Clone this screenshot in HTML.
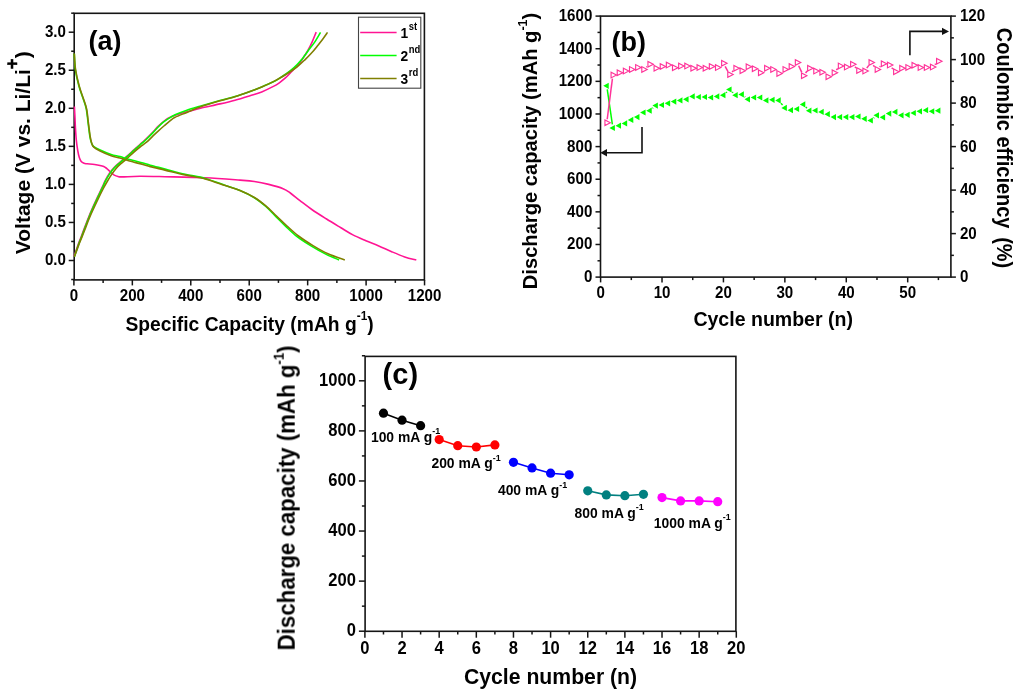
<!DOCTYPE html>
<html><head><meta charset="utf-8"><title>figure</title>
<style>
html,body{margin:0;padding:0;background:#fff;width:1024px;height:696px;overflow:hidden;}
svg{display:block;}
text{font-family:"Liberation Sans",sans-serif;fill:#000;font-weight:bold;}
</style></head><body>
<svg width="1024" height="696" viewBox="0 0 1024 696">
<rect width="1024" height="696" fill="#fff"/>
<g opacity="0.999">
<rect x="74.2" y="13.3" width="350.2" height="266.6" fill="none" stroke="#151515" stroke-width="1.6"/>
<line x1="71.2" y1="279.52" x2="74.2" y2="279.52" stroke="#151515" stroke-width="1.5" stroke-linecap="butt"/>
<line x1="68.7" y1="260.5" x2="74.2" y2="260.5" stroke="#151515" stroke-width="1.5" stroke-linecap="butt"/>
<text id="ta_l0" transform="translate(65.9,265.44) scale(0.91,1)" font-size="16.6" text-anchor="end">0.0</text>
<line x1="71.2" y1="241.47" x2="74.2" y2="241.47" stroke="#151515" stroke-width="1.5" stroke-linecap="butt"/>
<line x1="68.7" y1="222.45" x2="74.2" y2="222.45" stroke="#151515" stroke-width="1.5" stroke-linecap="butt"/>
<text id="ta_l2" transform="translate(65.9,227.39) scale(0.91,1)" font-size="16.6" text-anchor="end">0.5</text>
<line x1="71.2" y1="203.43" x2="74.2" y2="203.43" stroke="#151515" stroke-width="1.5" stroke-linecap="butt"/>
<line x1="68.7" y1="184.4" x2="74.2" y2="184.4" stroke="#151515" stroke-width="1.5" stroke-linecap="butt"/>
<text id="ta_l4" transform="translate(65.9,189.34) scale(0.91,1)" font-size="16.6" text-anchor="end">1.0</text>
<line x1="71.2" y1="165.38" x2="74.2" y2="165.38" stroke="#151515" stroke-width="1.5" stroke-linecap="butt"/>
<line x1="68.7" y1="146.35" x2="74.2" y2="146.35" stroke="#151515" stroke-width="1.5" stroke-linecap="butt"/>
<text id="ta_l6" transform="translate(65.9,151.29) scale(0.91,1)" font-size="16.6" text-anchor="end">1.5</text>
<line x1="71.2" y1="127.33" x2="74.2" y2="127.33" stroke="#151515" stroke-width="1.5" stroke-linecap="butt"/>
<line x1="68.7" y1="108.3" x2="74.2" y2="108.3" stroke="#151515" stroke-width="1.5" stroke-linecap="butt"/>
<text id="ta_l8" transform="translate(65.9,113.24) scale(0.91,1)" font-size="16.6" text-anchor="end">2.0</text>
<line x1="71.2" y1="89.28" x2="74.2" y2="89.28" stroke="#151515" stroke-width="1.5" stroke-linecap="butt"/>
<line x1="68.7" y1="70.25" x2="74.2" y2="70.25" stroke="#151515" stroke-width="1.5" stroke-linecap="butt"/>
<text id="ta_l10" transform="translate(65.9,75.19) scale(0.91,1)" font-size="16.6" text-anchor="end">2.5</text>
<line x1="71.2" y1="51.23" x2="74.2" y2="51.23" stroke="#151515" stroke-width="1.5" stroke-linecap="butt"/>
<line x1="68.7" y1="32.2" x2="74.2" y2="32.2" stroke="#151515" stroke-width="1.5" stroke-linecap="butt"/>
<text id="ta_l12" transform="translate(65.9,37.14) scale(0.91,1)" font-size="16.6" text-anchor="end">3.0</text>
<line x1="71.2" y1="13.18" x2="74.2" y2="13.18" stroke="#151515" stroke-width="1.5" stroke-linecap="butt"/>
<line x1="73.9" y1="279.9" x2="73.9" y2="285.4" stroke="#151515" stroke-width="1.5" stroke-linecap="butt"/>
<text id="ta_b0" transform="translate(73.9,300.69) scale(0.91,1)" font-size="16.6" text-anchor="middle">0</text>
<line x1="103.12" y1="279.9" x2="103.12" y2="282.9" stroke="#151515" stroke-width="1.5" stroke-linecap="butt"/>
<line x1="132.34" y1="279.9" x2="132.34" y2="285.4" stroke="#151515" stroke-width="1.5" stroke-linecap="butt"/>
<text id="ta_b2" transform="translate(132.34,300.69) scale(0.91,1)" font-size="16.6" text-anchor="middle">200</text>
<line x1="161.56" y1="279.9" x2="161.56" y2="282.9" stroke="#151515" stroke-width="1.5" stroke-linecap="butt"/>
<line x1="190.78" y1="279.9" x2="190.78" y2="285.4" stroke="#151515" stroke-width="1.5" stroke-linecap="butt"/>
<text id="ta_b4" transform="translate(190.78,300.69) scale(0.91,1)" font-size="16.6" text-anchor="middle">400</text>
<line x1="220" y1="279.9" x2="220" y2="282.9" stroke="#151515" stroke-width="1.5" stroke-linecap="butt"/>
<line x1="249.22" y1="279.9" x2="249.22" y2="285.4" stroke="#151515" stroke-width="1.5" stroke-linecap="butt"/>
<text id="ta_b6" transform="translate(249.22,300.69) scale(0.91,1)" font-size="16.6" text-anchor="middle">600</text>
<line x1="278.44" y1="279.9" x2="278.44" y2="282.9" stroke="#151515" stroke-width="1.5" stroke-linecap="butt"/>
<line x1="307.66" y1="279.9" x2="307.66" y2="285.4" stroke="#151515" stroke-width="1.5" stroke-linecap="butt"/>
<text id="ta_b8" transform="translate(307.66,300.69) scale(0.91,1)" font-size="16.6" text-anchor="middle">800</text>
<line x1="336.88" y1="279.9" x2="336.88" y2="282.9" stroke="#151515" stroke-width="1.5" stroke-linecap="butt"/>
<line x1="366.1" y1="279.9" x2="366.1" y2="285.4" stroke="#151515" stroke-width="1.5" stroke-linecap="butt"/>
<text id="ta_b10" transform="translate(366.1,300.69) scale(0.91,1)" font-size="16.6" text-anchor="middle">1000</text>
<line x1="395.32" y1="279.9" x2="395.32" y2="282.9" stroke="#151515" stroke-width="1.5" stroke-linecap="butt"/>
<line x1="424.54" y1="279.9" x2="424.54" y2="285.4" stroke="#151515" stroke-width="1.5" stroke-linecap="butt"/>
<text id="ta_b12" transform="translate(424.54,300.69) scale(0.91,1)" font-size="16.6" text-anchor="middle">1200</text>
<path d="M74.4,106.5 C74.5,108.42 74.83,114.52 75,118 C75.17,121.48 75.18,123.73 75.4,127.4 C75.62,131.07 75.92,136.18 76.3,140 C76.68,143.82 77.2,147.38 77.7,150.3 C78.2,153.22 78.72,155.63 79.3,157.5 C79.88,159.37 80.42,160.53 81.2,161.5 C81.98,162.47 83.02,162.92 84,163.3 C84.98,163.68 85.33,163.6 87.1,163.8 C88.87,164 92.08,164.13 94.6,164.5 C97.12,164.87 100.38,165.5 102.2,166 C104.02,166.5 104.5,166.87 105.5,167.5 C106.5,168.13 107.2,168.88 108.2,169.8 C109.2,170.72 110.5,172.12 111.5,173 C112.5,173.88 113.12,174.52 114.2,175.1 C115.28,175.68 116.73,176.2 118,176.5 C119.27,176.8 118.15,176.93 121.8,176.9 C125.45,176.87 132.7,176.33 139.9,176.3 C147.1,176.27 154.12,176.47 165,176.7 C175.88,176.93 192.7,177.13 205.2,177.7 C217.7,178.27 231.8,179.47 240,180.1 C248.2,180.73 249.62,180.78 254.4,181.5 C259.18,182.22 263.92,183.2 268.7,184.4 C273.48,185.6 279.5,187.27 283.1,188.7 C286.7,190.13 287.43,190.97 290.3,193 C293.17,195.03 296.72,198.15 300.3,200.9 C303.88,203.65 307.48,206.52 311.8,209.5 C316.12,212.48 321.42,215.8 326.2,218.8 C330.98,221.8 336.05,224.82 340.5,227.5 C344.95,230.18 348.67,232.7 352.9,234.9 C357.13,237.1 361.58,238.87 365.9,240.7 C370.22,242.53 374.5,244.07 378.8,245.9 C383.1,247.73 387.38,249.87 391.7,251.7 C396.02,253.53 400.6,255.5 404.7,256.9 C408.8,258.3 414.37,259.57 416.3,260.1" fill="none" stroke="#ff1493" stroke-width="1.6" stroke-linejoin="round" stroke-linecap="butt"/>
<path d="M74.1,256.2 C74.75,254.32 76.82,248.15 78,244.9 C79.18,241.65 80.15,239.45 81.2,236.7 C82.25,233.95 83.1,231.57 84.3,228.4 C85.5,225.23 87.15,220.83 88.4,217.7 C89.65,214.57 90.27,213.07 91.8,209.6 C93.33,206.13 95.87,200.63 97.6,196.9 C99.33,193.17 100.87,190.03 102.2,187.2 C103.53,184.37 104.38,182.22 105.6,179.9 C106.82,177.58 108.08,175.37 109.5,173.3 C110.92,171.23 112.38,169.33 114.1,167.5 C115.82,165.67 117.98,163.9 119.8,162.3 C121.62,160.7 123.08,159.57 125,157.9 C126.92,156.23 129.28,154.12 131.3,152.3 C133.32,150.48 135.37,148.57 137.1,147 C138.83,145.43 140.07,144.37 141.7,142.9 C143.33,141.43 145.07,139.97 146.9,138.2 C148.73,136.43 150.78,134.3 152.7,132.3 C154.62,130.3 156.18,128.32 158.4,126.2 C160.62,124.08 163.78,121.2 166,119.6 C168.22,118 169.78,117.45 171.7,116.6 C173.62,115.75 174.62,115.38 177.5,114.5 C180.38,113.62 185.17,112.35 189,111.3 C192.83,110.25 195.33,109.43 200.5,108.2 C205.67,106.97 214.25,105.23 220,103.9 C225.75,102.57 230,101.57 235,100.2 C240,98.83 245.55,97.08 250,95.7 C254.45,94.32 257.8,93.45 261.7,91.9 C265.6,90.35 270.47,87.92 273.4,86.4 C276.33,84.88 277.35,84.17 279.3,82.8 C281.25,81.43 283.15,79.95 285.1,78.2 C287.05,76.45 289.03,74.35 291,72.3 C292.97,70.25 295.43,67.47 296.9,65.9 C298.37,64.33 298.72,64.3 299.8,62.9 C300.88,61.5 302.1,59.48 303.4,57.5 C304.7,55.52 306.13,53.62 307.6,51 C309.07,48.38 310.77,44.95 312.2,41.8 C313.63,38.65 315.53,33.72 316.2,32.1" fill="none" stroke="#ff1493" stroke-width="1.6" stroke-linejoin="round" stroke-linecap="butt"/>
<path d="M74.3,53.8 C74.48,56.48 74.63,64.53 75.4,69.9 C76.17,75.27 77.55,81.02 78.9,86 C80.25,90.98 82.27,95.97 83.5,99.8 C84.73,103.63 85.53,105.17 86.3,109 C87.07,112.83 87.5,118.2 88.1,122.8 C88.7,127.4 89.33,133.23 89.9,136.6 C90.47,139.97 90.9,141.38 91.5,143 C92.1,144.62 92.15,145.17 93.5,146.3 C94.85,147.43 96.67,148.43 99.6,149.8 C102.53,151.17 107.7,153.37 111.1,154.5 C114.5,155.63 116.93,155.75 120,156.6 C123.07,157.45 125.67,158.53 129.5,159.6 C133.33,160.67 139.55,162.07 143,163 C146.45,163.93 146.53,164.2 150.2,165.2 C153.87,166.2 159.18,167.5 165,169 C170.82,170.5 178.4,172.63 185.1,174.2 C191.8,175.77 198.48,176.53 205.2,178.4 C211.92,180.27 219.6,183.38 225.4,185.4 C231.2,187.42 235.17,188.45 240,190.5 C244.83,192.55 250.1,195.05 254.4,197.7 C258.7,200.35 262.22,203.25 265.8,206.4 C269.38,209.55 272.53,213.22 275.9,216.6 C279.27,219.98 282.42,223.32 286,226.7 C289.58,230.08 293.1,233.62 297.4,236.9 C301.7,240.18 307,243.48 311.8,246.4 C316.6,249.32 321.65,252.15 326.2,254.4 C330.75,256.65 336.95,258.98 339.1,259.9" fill="none" stroke="#00ff00" stroke-width="1.6" stroke-linejoin="round" stroke-linecap="butt"/>
<path d="M74.4,256.5 C75.05,254.62 77.12,248.45 78.3,245.2 C79.48,241.95 80.45,239.75 81.5,237 C82.55,234.25 83.4,231.87 84.6,228.7 C85.8,225.53 87.45,221.13 88.7,218 C89.95,214.87 90.57,213.37 92.1,209.9 C93.63,206.43 96.17,200.93 97.9,197.2 C99.63,193.47 101.17,190.33 102.5,187.5 C103.83,184.67 104.68,182.52 105.9,180.2 C107.12,177.88 108.38,175.67 109.8,173.6 C111.22,171.53 112.68,169.63 114.4,167.8 C116.12,165.97 118.28,164.2 120.1,162.6 C121.92,161 123.38,159.87 125.3,158.2 C127.22,156.53 129.58,154.42 131.6,152.6 C133.62,150.78 135.67,148.87 137.4,147.3 C139.13,145.73 140.37,144.67 142,143.2 C143.63,141.73 145.37,140.27 147.2,138.5 C149.03,136.73 151.08,134.6 153,132.6 C154.92,130.6 156.98,128.23 158.7,126.5 C160.42,124.77 161.75,123.47 163.3,122.2 C164.85,120.93 166.03,120.13 168,118.9 C169.97,117.67 171.95,116.25 175.1,114.8 C178.25,113.35 182.75,111.63 186.9,110.2 C191.05,108.77 194.48,107.82 200,106.2 C205.52,104.58 214.17,102.12 220,100.5 C225.83,98.88 230,98.02 235,96.5 C240,94.98 245.55,93 250,91.4 C254.45,89.8 257.8,88.5 261.7,86.9 C265.6,85.3 270.47,83.22 273.4,81.8 C276.33,80.38 277.35,79.62 279.3,78.4 C281.25,77.18 283.15,75.87 285.1,74.5 C287.05,73.13 289.03,71.82 291,70.2 C292.97,68.58 295.23,66.45 296.9,64.8 C298.57,63.15 299.9,61.57 301,60.3 C302.1,59.03 302.22,58.93 303.5,57.2 C304.78,55.47 306.87,52.37 308.7,49.9 C310.53,47.43 312.53,45.32 314.5,42.4 C316.47,39.48 319.5,34.07 320.5,32.4" fill="none" stroke="#00ff00" stroke-width="1.6" stroke-linejoin="round" stroke-linecap="butt"/>
<path d="M74.3,53.5 C74.52,56.23 74.78,64.48 75.6,69.9 C76.42,75.32 77.83,81.02 79.2,86 C80.57,90.98 82.57,95.97 83.8,99.8 C85.03,103.63 85.83,105.17 86.6,109 C87.37,112.83 87.8,118.2 88.4,122.8 C89,127.4 89.63,133.15 90.2,136.6 C90.77,140.05 91.2,141.73 91.8,143.5 C92.4,145.27 92.5,145.98 93.8,147.2 C95.1,148.42 96.72,149.37 99.6,150.8 C102.48,152.23 107.7,154.6 111.1,155.8 C114.5,157 116.93,157.13 120,158 C123.07,158.87 125.67,159.92 129.5,161 C133.33,162.08 139.55,163.57 143,164.5 C146.45,165.43 146.53,165.67 150.2,166.6 C153.87,167.53 159.18,168.72 165,170.1 C170.82,171.48 178.4,173.43 185.1,174.9 C191.8,176.37 198.48,177.12 205.2,178.9 C211.92,180.68 219.6,183.65 225.4,185.6 C231.2,187.55 235.17,188.62 240,190.6 C244.83,192.58 250.1,194.95 254.4,197.5 C258.7,200.05 262.12,202.82 265.8,205.9 C269.48,208.98 272.97,212.65 276.5,216 C280.03,219.35 283.33,222.67 287,226 C290.67,229.33 294.17,232.73 298.5,236 C302.83,239.27 308.08,242.63 313,245.6 C317.92,248.57 322.7,251.42 328,253.8 C333.3,256.18 342,258.88 344.8,259.9" fill="none" stroke="#808000" stroke-width="1.6" stroke-linejoin="round" stroke-linecap="butt"/>
<path d="M74.4,256.8 C75.08,254.93 77.27,248.83 78.5,245.6 C79.73,242.37 80.72,240.13 81.8,237.4 C82.88,234.67 83.77,232.35 85,229.2 C86.23,226.05 87.92,221.62 89.2,218.5 C90.48,215.38 91.13,213.92 92.7,210.5 C94.27,207.08 96.83,201.67 98.6,198 C100.37,194.33 101.82,191.33 103.3,188.5 C104.78,185.67 106.13,183.32 107.5,181 C108.87,178.68 110.07,176.7 111.5,174.6 C112.93,172.5 114.52,170.23 116.1,168.4 C117.68,166.57 119.35,165.08 121,163.6 C122.65,162.12 123.75,161.5 126,159.5 C128.25,157.5 132.17,153.68 134.5,151.6 C136.83,149.52 137.88,148.67 140,147 C142.12,145.33 145.03,143.45 147.2,141.6 C149.37,139.75 151.08,137.73 153,135.9 C154.92,134.07 156.78,132.33 158.7,130.6 C160.62,128.87 162.62,127.12 164.5,125.5 C166.38,123.88 168.23,122.27 170,120.9 C171.77,119.53 172.28,118.72 175.1,117.3 C177.92,115.88 182.75,114.12 186.9,112.4 C191.05,110.68 194.48,108.93 200,107 C205.52,105.07 214.17,102.52 220,100.8 C225.83,99.08 230,98.23 235,96.7 C240,95.17 245.55,93.22 250,91.6 C254.45,89.98 257.8,88.67 261.7,87 C265.6,85.33 269.5,83.6 273.4,81.6 C277.3,79.6 281.18,77.43 285.1,75 C289.02,72.57 293.57,69.57 296.9,67 C300.23,64.43 302.55,62.07 305.1,59.6 C307.65,57.13 310.07,54.58 312.2,52.2 C314.33,49.82 316.18,47.42 317.9,45.3 C319.62,43.18 320.9,41.65 322.5,39.5 C324.1,37.35 326.67,33.58 327.5,32.4" fill="none" stroke="#808000" stroke-width="1.6" stroke-linejoin="round" stroke-linecap="butt"/>
<rect x="358.5" y="17.2" width="62.3" height="71" fill="#fff" stroke="#444" stroke-width="1.1"/>
<line x1="360.2" y1="32.5" x2="396.6" y2="32.5" stroke="#ff1493" stroke-width="1.3" stroke-linecap="butt"/>
<text transform="translate(400.4,38.1) scale(0.92,1)" font-size="15" >1<tspan dx="0.7" dy="-8.2" font-size="10.3">st</tspan></text>
<line x1="360.2" y1="55.5" x2="396.6" y2="55.5" stroke="#00ff00" stroke-width="1.3" stroke-linecap="butt"/>
<text transform="translate(400.4,61.1) scale(0.92,1)" font-size="15" >2<tspan dx="0.7" dy="-8.2" font-size="10.3">nd</tspan></text>
<line x1="360.2" y1="78.5" x2="396.6" y2="78.5" stroke="#808000" stroke-width="1.3" stroke-linecap="butt"/>
<text transform="translate(400.4,83.9) scale(0.92,1)" font-size="15" >3<tspan dx="0.7" dy="-8.2" font-size="10.3">rd</tspan></text>
<text x="88.6" y="49.6" font-size="27" text-anchor="start" font-weight="bold">(a)</text>
<text id="tVolt" transform="translate(30.3,254.2) rotate(-90) scale(1.0050,1)" font-size="20.9" letter-spacing="0.000">Voltage (V vs. Li/Li<tspan dy="-12" font-size="18.5" style="stroke:#000;stroke-width:0.5">+</tspan><tspan dy="12">)</tspan></text>
<text id="tSpec" transform="translate(125.4,331.4) scale(0.9592,1)" font-size="20.1" letter-spacing="0.000">Specific Capacity (mAh g<tspan dy="-11" font-size="12.3">-1</tspan><tspan dy="11">)</tspan></text>
<rect x="600.5" y="16.1" width="350.4" height="261" fill="none" stroke="#151515" stroke-width="1.6"/>
<line x1="595.5" y1="277.1" x2="600.5" y2="277.1" stroke="#151515" stroke-width="1.5" stroke-linecap="butt"/>
<text id="tb_l0" transform="translate(592.3,282.04) scale(0.91,1)" font-size="16.6" text-anchor="end">0</text>
<line x1="597.5" y1="260.79" x2="600.5" y2="260.79" stroke="#151515" stroke-width="1.5" stroke-linecap="butt"/>
<line x1="595.5" y1="244.48" x2="600.5" y2="244.48" stroke="#151515" stroke-width="1.5" stroke-linecap="butt"/>
<text id="tb_l2" transform="translate(592.3,249.42) scale(0.91,1)" font-size="16.6" text-anchor="end">200</text>
<line x1="597.5" y1="228.16" x2="600.5" y2="228.16" stroke="#151515" stroke-width="1.5" stroke-linecap="butt"/>
<line x1="595.5" y1="211.85" x2="600.5" y2="211.85" stroke="#151515" stroke-width="1.5" stroke-linecap="butt"/>
<text id="tb_l4" transform="translate(592.3,216.79) scale(0.91,1)" font-size="16.6" text-anchor="end">400</text>
<line x1="597.5" y1="195.54" x2="600.5" y2="195.54" stroke="#151515" stroke-width="1.5" stroke-linecap="butt"/>
<line x1="595.5" y1="179.23" x2="600.5" y2="179.23" stroke="#151515" stroke-width="1.5" stroke-linecap="butt"/>
<text id="tb_l6" transform="translate(592.3,184.17) scale(0.91,1)" font-size="16.6" text-anchor="end">600</text>
<line x1="597.5" y1="162.91" x2="600.5" y2="162.91" stroke="#151515" stroke-width="1.5" stroke-linecap="butt"/>
<line x1="595.5" y1="146.6" x2="600.5" y2="146.6" stroke="#151515" stroke-width="1.5" stroke-linecap="butt"/>
<text id="tb_l8" transform="translate(592.3,151.54) scale(0.91,1)" font-size="16.6" text-anchor="end">800</text>
<line x1="597.5" y1="130.29" x2="600.5" y2="130.29" stroke="#151515" stroke-width="1.5" stroke-linecap="butt"/>
<line x1="595.5" y1="113.98" x2="600.5" y2="113.98" stroke="#151515" stroke-width="1.5" stroke-linecap="butt"/>
<text id="tb_l10" transform="translate(592.3,118.92) scale(0.91,1)" font-size="16.6" text-anchor="end">1000</text>
<line x1="597.5" y1="97.66" x2="600.5" y2="97.66" stroke="#151515" stroke-width="1.5" stroke-linecap="butt"/>
<line x1="595.5" y1="81.35" x2="600.5" y2="81.35" stroke="#151515" stroke-width="1.5" stroke-linecap="butt"/>
<text id="tb_l12" transform="translate(592.3,86.29) scale(0.91,1)" font-size="16.6" text-anchor="end">1200</text>
<line x1="597.5" y1="65.04" x2="600.5" y2="65.04" stroke="#151515" stroke-width="1.5" stroke-linecap="butt"/>
<line x1="595.5" y1="48.73" x2="600.5" y2="48.73" stroke="#151515" stroke-width="1.5" stroke-linecap="butt"/>
<text id="tb_l14" transform="translate(592.3,53.67) scale(0.91,1)" font-size="16.6" text-anchor="end">1400</text>
<line x1="597.5" y1="32.41" x2="600.5" y2="32.41" stroke="#151515" stroke-width="1.5" stroke-linecap="butt"/>
<line x1="595.5" y1="16.1" x2="600.5" y2="16.1" stroke="#151515" stroke-width="1.5" stroke-linecap="butt"/>
<text id="tb_l16" transform="translate(592.3,21.04) scale(0.91,1)" font-size="16.6" text-anchor="end">1600</text>
<line x1="950.9" y1="277.1" x2="955.9" y2="277.1" stroke="#151515" stroke-width="1.5" stroke-linecap="butt"/>
<text id="tb_r0" transform="translate(959.9,282.04) scale(0.91,1)" font-size="16.6" text-anchor="start">0</text>
<line x1="950.9" y1="255.35" x2="953.9" y2="255.35" stroke="#151515" stroke-width="1.5" stroke-linecap="butt"/>
<line x1="950.9" y1="233.6" x2="955.9" y2="233.6" stroke="#151515" stroke-width="1.5" stroke-linecap="butt"/>
<text id="tb_r2" transform="translate(959.9,238.54) scale(0.91,1)" font-size="16.6" text-anchor="start">20</text>
<line x1="950.9" y1="211.85" x2="953.9" y2="211.85" stroke="#151515" stroke-width="1.5" stroke-linecap="butt"/>
<line x1="950.9" y1="190.1" x2="955.9" y2="190.1" stroke="#151515" stroke-width="1.5" stroke-linecap="butt"/>
<text id="tb_r4" transform="translate(959.9,195.04) scale(0.91,1)" font-size="16.6" text-anchor="start">40</text>
<line x1="950.9" y1="168.35" x2="953.9" y2="168.35" stroke="#151515" stroke-width="1.5" stroke-linecap="butt"/>
<line x1="950.9" y1="146.6" x2="955.9" y2="146.6" stroke="#151515" stroke-width="1.5" stroke-linecap="butt"/>
<text id="tb_r6" transform="translate(959.9,151.54) scale(0.91,1)" font-size="16.6" text-anchor="start">60</text>
<line x1="950.9" y1="124.85" x2="953.9" y2="124.85" stroke="#151515" stroke-width="1.5" stroke-linecap="butt"/>
<line x1="950.9" y1="103.1" x2="955.9" y2="103.1" stroke="#151515" stroke-width="1.5" stroke-linecap="butt"/>
<text id="tb_r8" transform="translate(959.9,108.04) scale(0.91,1)" font-size="16.6" text-anchor="start">80</text>
<line x1="950.9" y1="81.35" x2="953.9" y2="81.35" stroke="#151515" stroke-width="1.5" stroke-linecap="butt"/>
<line x1="950.9" y1="59.6" x2="955.9" y2="59.6" stroke="#151515" stroke-width="1.5" stroke-linecap="butt"/>
<text id="tb_r10" transform="translate(959.9,64.54) scale(0.91,1)" font-size="16.6" text-anchor="start">100</text>
<line x1="950.9" y1="37.85" x2="953.9" y2="37.85" stroke="#151515" stroke-width="1.5" stroke-linecap="butt"/>
<line x1="950.9" y1="16.1" x2="955.9" y2="16.1" stroke="#151515" stroke-width="1.5" stroke-linecap="butt"/>
<text id="tb_r12" transform="translate(959.9,21.04) scale(0.91,1)" font-size="16.6" text-anchor="start">120</text>
<line x1="600.6" y1="277.1" x2="600.6" y2="282.4" stroke="#151515" stroke-width="1.5" stroke-linecap="butt"/>
<text id="tb_b0" transform="translate(600.6,297.54) scale(0.91,1)" font-size="16.6" text-anchor="middle">0</text>
<line x1="631.31" y1="277.1" x2="631.31" y2="280.1" stroke="#151515" stroke-width="1.5" stroke-linecap="butt"/>
<line x1="662.02" y1="277.1" x2="662.02" y2="282.4" stroke="#151515" stroke-width="1.5" stroke-linecap="butt"/>
<text id="tb_b2" transform="translate(662.02,297.54) scale(0.91,1)" font-size="16.6" text-anchor="middle">10</text>
<line x1="692.73" y1="277.1" x2="692.73" y2="280.1" stroke="#151515" stroke-width="1.5" stroke-linecap="butt"/>
<line x1="723.44" y1="277.1" x2="723.44" y2="282.4" stroke="#151515" stroke-width="1.5" stroke-linecap="butt"/>
<text id="tb_b4" transform="translate(723.44,297.54) scale(0.91,1)" font-size="16.6" text-anchor="middle">20</text>
<line x1="754.15" y1="277.1" x2="754.15" y2="280.1" stroke="#151515" stroke-width="1.5" stroke-linecap="butt"/>
<line x1="784.86" y1="277.1" x2="784.86" y2="282.4" stroke="#151515" stroke-width="1.5" stroke-linecap="butt"/>
<text id="tb_b6" transform="translate(784.86,297.54) scale(0.91,1)" font-size="16.6" text-anchor="middle">30</text>
<line x1="815.57" y1="277.1" x2="815.57" y2="280.1" stroke="#151515" stroke-width="1.5" stroke-linecap="butt"/>
<line x1="846.28" y1="277.1" x2="846.28" y2="282.4" stroke="#151515" stroke-width="1.5" stroke-linecap="butt"/>
<text id="tb_b8" transform="translate(846.28,297.54) scale(0.91,1)" font-size="16.6" text-anchor="middle">40</text>
<line x1="876.99" y1="277.1" x2="876.99" y2="280.1" stroke="#151515" stroke-width="1.5" stroke-linecap="butt"/>
<line x1="907.7" y1="277.1" x2="907.7" y2="282.4" stroke="#151515" stroke-width="1.5" stroke-linecap="butt"/>
<text id="tb_b10" transform="translate(907.7,297.54) scale(0.91,1)" font-size="16.6" text-anchor="middle">50</text>
<line x1="938.41" y1="277.1" x2="938.41" y2="280.1" stroke="#151515" stroke-width="1.5" stroke-linecap="butt"/>
<line x1="607.26" y1="89.36" x2="612.37" y2="124.44" stroke="#00ff00" stroke-width="1.5" stroke-linecap="butt"/>
<line x1="652.51" y1="108.4" x2="653.11" y2="107.9" stroke="#00ff00" stroke-width="1.5" stroke-linecap="butt"/>
<line x1="726.08" y1="92.75" x2="726.94" y2="91.95" stroke="#00ff00" stroke-width="1.5" stroke-linecap="butt"/>
<line x1="732.22" y1="91.95" x2="733.09" y2="92.75" stroke="#00ff00" stroke-width="1.5" stroke-linecap="butt"/>
<line x1="744.68" y1="96.65" x2="745.19" y2="97.05" stroke="#00ff00" stroke-width="1.5" stroke-linecap="butt"/>
<line x1="781" y1="103.19" x2="782.58" y2="105.11" stroke="#00ff00" stroke-width="1.5" stroke-linecap="butt"/>
<line x1="805.8" y1="106.98" x2="806.91" y2="108.12" stroke="#00ff00" stroke-width="1.5" stroke-linecap="butt"/>
<line x1="873.6" y1="118.17" x2="874.24" y2="117.63" stroke="#00ff00" stroke-width="1.5" stroke-linecap="butt"/>
<line x1="607.2" y1="119.23" x2="612.42" y2="78.67" stroke="#ff3399" stroke-width="1.5" stroke-linecap="butt"/>
<line x1="646.34" y1="67.07" x2="646.99" y2="66.53" stroke="#ff3399" stroke-width="1.5" stroke-linecap="butt"/>
<line x1="725.17" y1="66.46" x2="727.85" y2="71.34" stroke="#ff3399" stroke-width="1.5" stroke-linecap="butt"/>
<line x1="732.1" y1="71.92" x2="733.21" y2="70.78" stroke="#ff3399" stroke-width="1.5" stroke-linecap="butt"/>
<line x1="798.66" y1="65.76" x2="801.77" y2="72.44" stroke="#ff3399" stroke-width="1.5" stroke-linecap="butt"/>
<line x1="805.57" y1="72.91" x2="807.15" y2="70.99" stroke="#ff3399" stroke-width="1.5" stroke-linecap="butt"/>
<line x1="836.39" y1="70.11" x2="837.74" y2="68.59" stroke="#ff3399" stroke-width="1.5" stroke-linecap="butt"/>
<line x1="854.94" y1="66.78" x2="856.05" y2="67.92" stroke="#ff3399" stroke-width="1.5" stroke-linecap="butt"/>
<line x1="866.8" y1="68.17" x2="868.76" y2="65.43" stroke="#ff3399" stroke-width="1.5" stroke-linecap="butt"/>
<line x1="873.24" y1="65.19" x2="874.6" y2="66.71" stroke="#ff3399" stroke-width="1.5" stroke-linecap="butt"/>
<line x1="879.65" y1="66.97" x2="880.47" y2="66.23" stroke="#ff3399" stroke-width="1.5" stroke-linecap="butt"/>
<line x1="891.73" y1="67.74" x2="892.96" y2="69.06" stroke="#ff3399" stroke-width="1.5" stroke-linecap="butt"/>
<line x1="934.89" y1="64.63" x2="935.79" y2="63.77" stroke="#ff3399" stroke-width="1.5" stroke-linecap="butt"/>
<path d="M603.24,85.8 L608.74,82.7 L608.74,88.9Z M609.38,128 L614.88,124.9 L614.88,131.1Z M615.53,125.7 L621.03,122.6 L621.03,128.8Z M621.67,123.4 L627.17,120.3 L627.17,126.5Z M627.81,119.9 L633.31,116.8 L633.31,123Z M633.95,117.1 L639.45,114 L639.45,120.2Z M640.09,112.5 L645.59,109.4 L645.59,115.6Z M646.24,110.7 L651.74,107.6 L651.74,113.8Z M652.38,105.6 L657.88,102.5 L657.88,108.7Z M658.52,105 L664.02,101.9 L664.02,108.1Z M664.66,103.3 L670.16,100.2 L670.16,106.4Z M670.8,101.6 L676.3,98.5 L676.3,104.7Z M676.95,100.4 L682.45,97.3 L682.45,103.5Z M683.09,99.3 L688.59,96.2 L688.59,102.4Z M689.23,96.4 L694.73,93.3 L694.73,99.5Z M695.37,97 L700.87,93.9 L700.87,100.1Z M701.51,97 L707.01,93.9 L707.01,100.1Z M707.66,97.5 L713.16,94.4 L713.16,100.6Z M713.8,96.4 L719.3,93.3 L719.3,99.5Z M719.94,95.2 L725.44,92.1 L725.44,98.3Z M726.08,89.5 L731.58,86.4 L731.58,92.6Z M732.22,95.2 L737.72,92.1 L737.72,98.3Z M738.37,94.4 L743.87,91.3 L743.87,97.5Z M744.51,99.3 L750.01,96.2 L750.01,102.4Z M750.65,97.5 L756.15,94.4 L756.15,100.6Z M756.79,97.5 L762.29,94.4 L762.29,100.6Z M762.93,100.4 L768.43,97.3 L768.43,103.5Z M769.08,99.8 L774.58,96.7 L774.58,102.9Z M775.22,100.4 L780.72,97.3 L780.72,103.5Z M781.36,107.9 L786.86,104.8 L786.86,111Z M787.5,110.2 L793,107.1 L793,113.3Z M793.64,109 L799.14,105.9 L799.14,112.1Z M799.79,104.4 L805.29,101.3 L805.29,107.5Z M805.93,110.7 L811.43,107.6 L811.43,113.8Z M812.07,110.5 L817.57,107.4 L817.57,113.6Z M818.21,111.9 L823.71,108.8 L823.71,115Z M824.35,114.2 L829.85,111.1 L829.85,117.3Z M830.5,117.1 L836,114 L836,120.2Z M836.64,117.1 L842.14,114 L842.14,120.2Z M842.78,117.1 L848.28,114 L848.28,120.2Z M848.92,117.1 L854.42,114 L854.42,120.2Z M855.06,116.5 L860.56,113.4 L860.56,119.6Z M861.21,118.8 L866.71,115.7 L866.71,121.9Z M867.35,120.5 L872.85,117.4 L872.85,123.6Z M873.49,115.3 L878.99,112.2 L878.99,118.4Z M879.63,117.3 L885.13,114.2 L885.13,120.4Z M885.77,113.6 L891.27,110.5 L891.27,116.7Z M891.92,111.9 L897.42,108.8 L897.42,115Z M898.06,115.3 L903.56,112.2 L903.56,118.4Z M904.2,114.8 L909.7,111.7 L909.7,117.9Z M910.34,113 L915.84,109.9 L915.84,116.1Z M916.48,111.3 L921.98,108.2 L921.98,114.4Z M922.63,110.2 L928.13,107.1 L928.13,113.3Z M928.77,111.3 L934.27,108.2 L934.27,114.4Z M934.91,110.7 L940.41,107.6 L940.41,113.8Z" fill="#00ff00"/>
<path d="M610.34,122.8 L604.94,120 L604.94,125.6Z M616.48,75.1 L611.08,72.3 L611.08,77.9Z M622.63,72.8 L617.23,70 L617.23,75.6Z M628.77,71.1 L623.37,68.3 L623.37,73.9Z M634.91,69.4 L629.51,66.6 L629.51,72.2Z M641.05,67.4 L635.65,64.6 L635.65,70.2Z M647.19,69.4 L641.79,66.6 L641.79,72.2Z M653.34,64.2 L647.94,61.4 L647.94,67Z M659.48,68.2 L654.08,65.4 L654.08,71Z M665.62,66.5 L660.22,63.7 L660.22,69.3Z M671.76,65.1 L666.36,62.3 L666.36,67.9Z M677.9,67.7 L672.5,64.9 L672.5,70.5Z M684.05,66.1 L678.65,63.3 L678.65,68.9Z M690.19,66.1 L684.79,63.3 L684.79,68.9Z M696.33,68.2 L690.93,65.4 L690.93,71Z M702.47,67.6 L697.07,64.8 L697.07,70.4Z M708.61,68.2 L703.21,65.4 L703.21,71Z M714.76,66.5 L709.36,63.7 L709.36,69.3Z M720.9,67.6 L715.5,64.8 L715.5,70.4Z M727.04,63.3 L721.64,60.5 L721.64,66.1Z M733.18,74.5 L727.78,71.7 L727.78,77.3Z M739.32,68.2 L733.92,65.4 L733.92,71Z M745.47,70.8 L740.07,68 L740.07,73.6Z M751.61,66.8 L746.21,64 L746.21,69.6Z M757.75,68.8 L752.35,66 L752.35,71.6Z M763.89,72.8 L758.49,70 L758.49,75.6Z M770.03,68.2 L764.63,65.4 L764.63,71Z M776.18,69.4 L770.78,66.6 L770.78,72.2Z M782.32,73.4 L776.92,70.6 L776.92,76.2Z M788.46,69.4 L783.06,66.6 L783.06,72.2Z M794.6,66.5 L789.2,63.7 L789.2,69.3Z M800.74,62.5 L795.34,59.7 L795.34,65.3Z M806.89,75.7 L801.49,72.9 L801.49,78.5Z M813.03,68.2 L807.63,65.4 L807.63,71Z M819.17,71.1 L813.77,68.3 L813.77,73.9Z M825.31,72.2 L819.91,69.4 L819.91,75Z M831.45,76.8 L826.05,74 L826.05,79.6Z M837.6,72.8 L832.2,70 L832.2,75.6Z M843.74,65.9 L838.34,63.1 L838.34,68.7Z M849.88,67.1 L844.48,64.3 L844.48,69.9Z M856.02,64.2 L850.62,61.4 L850.62,67Z M862.16,70.5 L856.76,67.7 L856.76,73.3Z M868.31,71.1 L862.91,68.3 L862.91,73.9Z M874.45,62.5 L869.05,59.7 L869.05,65.3Z M880.59,69.4 L875.19,66.6 L875.19,72.2Z M886.73,63.8 L881.33,61 L881.33,66.6Z M892.87,65.1 L887.47,62.3 L887.47,67.9Z M899.02,71.7 L893.62,68.9 L893.62,74.5Z M905.16,68.2 L899.76,65.4 L899.76,71Z M911.3,67.4 L905.9,64.6 L905.9,70.2Z M917.44,65.3 L912.04,62.5 L912.04,68.1Z M923.58,67.6 L918.18,64.8 L918.18,70.4Z M929.73,67.6 L924.33,64.8 L924.33,70.4Z M935.87,67.1 L930.47,64.3 L930.47,69.9Z M942.01,61.3 L936.61,58.5 L936.61,64.1Z" fill="none" stroke="#ff3399" stroke-width="1.15" stroke-linejoin="miter"/>
<polyline points="642,127.1 642,152.8 606,152.8" fill="none" stroke="#111" stroke-width="1.6"/>
<path d="M600.3,152.8 L607,149 L607,156.6Z" fill="#111"/>
<polyline points="909.9,55.3 909.9,31.4 943,31.4" fill="none" stroke="#111" stroke-width="1.6"/>
<path d="M949,31.4 L942,27.8 L942,35Z" fill="#111"/>
<text x="611.6" y="50.9" font-size="27" text-anchor="start" font-weight="bold">(b)</text>
<text id="tDisB" transform="translate(536.6,289.2) rotate(-90) scale(0.9928,1)" font-size="20.3" letter-spacing="0.000">Discharge capacity (mAh g<tspan dy="-10" font-size="12.5">-1</tspan><tspan dy="10">)</tspan></text>
<text id="tCoul" transform="translate(997,27.8) rotate(90) scale(0.9410,1)" font-size="21.2" letter-spacing="0.000">Coulombic efficiency<tspan dx="3.5"> (%)</tspan></text>
<text id="tCycB" transform="translate(693.4,325.9) scale(0.9725,1)" font-size="20.1" letter-spacing="0.000">Cycle number (n)</text>
<rect x="365.1" y="356.4" width="370.8" height="274.9" fill="none" stroke="#151515" stroke-width="1.6"/>
<line x1="358.9" y1="631.2" x2="365.1" y2="631.2" stroke="#151515" stroke-width="1.5" stroke-linecap="butt"/>
<text id="tc_l0" transform="translate(355.9,636.3) scale(0.94,1)" font-size="17.6" text-anchor="end">0</text>
<line x1="361.9" y1="606.16" x2="365.1" y2="606.16" stroke="#151515" stroke-width="1.5" stroke-linecap="butt"/>
<line x1="358.9" y1="581.12" x2="365.1" y2="581.12" stroke="#151515" stroke-width="1.5" stroke-linecap="butt"/>
<text id="tc_l2" transform="translate(355.9,586.22) scale(0.94,1)" font-size="17.6" text-anchor="end">200</text>
<line x1="361.9" y1="556.08" x2="365.1" y2="556.08" stroke="#151515" stroke-width="1.5" stroke-linecap="butt"/>
<line x1="358.9" y1="531.04" x2="365.1" y2="531.04" stroke="#151515" stroke-width="1.5" stroke-linecap="butt"/>
<text id="tc_l4" transform="translate(355.9,536.14) scale(0.94,1)" font-size="17.6" text-anchor="end">400</text>
<line x1="361.9" y1="506" x2="365.1" y2="506" stroke="#151515" stroke-width="1.5" stroke-linecap="butt"/>
<line x1="358.9" y1="480.96" x2="365.1" y2="480.96" stroke="#151515" stroke-width="1.5" stroke-linecap="butt"/>
<text id="tc_l6" transform="translate(355.9,486.06) scale(0.94,1)" font-size="17.6" text-anchor="end">600</text>
<line x1="361.9" y1="455.92" x2="365.1" y2="455.92" stroke="#151515" stroke-width="1.5" stroke-linecap="butt"/>
<line x1="358.9" y1="430.88" x2="365.1" y2="430.88" stroke="#151515" stroke-width="1.5" stroke-linecap="butt"/>
<text id="tc_l8" transform="translate(355.9,435.98) scale(0.94,1)" font-size="17.6" text-anchor="end">800</text>
<line x1="361.9" y1="405.84" x2="365.1" y2="405.84" stroke="#151515" stroke-width="1.5" stroke-linecap="butt"/>
<line x1="358.9" y1="380.8" x2="365.1" y2="380.8" stroke="#151515" stroke-width="1.5" stroke-linecap="butt"/>
<text id="tc_l10" transform="translate(355.9,385.9) scale(0.94,1)" font-size="17.6" text-anchor="end">1000</text>
<line x1="361.9" y1="355.76" x2="365.1" y2="355.76" stroke="#151515" stroke-width="1.5" stroke-linecap="butt"/>
<line x1="364.9" y1="631.3" x2="364.9" y2="637.7" stroke="#151515" stroke-width="1.5" stroke-linecap="butt"/>
<text id="tc_b0" transform="translate(364.9,653.7) scale(0.94,1)" font-size="17.6" text-anchor="middle">0</text>
<line x1="383.47" y1="631.3" x2="383.47" y2="634.5" stroke="#151515" stroke-width="1.5" stroke-linecap="butt"/>
<line x1="402.04" y1="631.3" x2="402.04" y2="637.7" stroke="#151515" stroke-width="1.5" stroke-linecap="butt"/>
<text id="tc_b2" transform="translate(402.04,653.7) scale(0.94,1)" font-size="17.6" text-anchor="middle">2</text>
<line x1="420.61" y1="631.3" x2="420.61" y2="634.5" stroke="#151515" stroke-width="1.5" stroke-linecap="butt"/>
<line x1="439.18" y1="631.3" x2="439.18" y2="637.7" stroke="#151515" stroke-width="1.5" stroke-linecap="butt"/>
<text id="tc_b4" transform="translate(439.18,653.7) scale(0.94,1)" font-size="17.6" text-anchor="middle">4</text>
<line x1="457.75" y1="631.3" x2="457.75" y2="634.5" stroke="#151515" stroke-width="1.5" stroke-linecap="butt"/>
<line x1="476.32" y1="631.3" x2="476.32" y2="637.7" stroke="#151515" stroke-width="1.5" stroke-linecap="butt"/>
<text id="tc_b6" transform="translate(476.32,653.7) scale(0.94,1)" font-size="17.6" text-anchor="middle">6</text>
<line x1="494.89" y1="631.3" x2="494.89" y2="634.5" stroke="#151515" stroke-width="1.5" stroke-linecap="butt"/>
<line x1="513.46" y1="631.3" x2="513.46" y2="637.7" stroke="#151515" stroke-width="1.5" stroke-linecap="butt"/>
<text id="tc_b8" transform="translate(513.46,653.7) scale(0.94,1)" font-size="17.6" text-anchor="middle">8</text>
<line x1="532.03" y1="631.3" x2="532.03" y2="634.5" stroke="#151515" stroke-width="1.5" stroke-linecap="butt"/>
<line x1="550.6" y1="631.3" x2="550.6" y2="637.7" stroke="#151515" stroke-width="1.5" stroke-linecap="butt"/>
<text id="tc_b10" transform="translate(550.6,653.7) scale(0.94,1)" font-size="17.6" text-anchor="middle">10</text>
<line x1="569.17" y1="631.3" x2="569.17" y2="634.5" stroke="#151515" stroke-width="1.5" stroke-linecap="butt"/>
<line x1="587.74" y1="631.3" x2="587.74" y2="637.7" stroke="#151515" stroke-width="1.5" stroke-linecap="butt"/>
<text id="tc_b12" transform="translate(587.74,653.7) scale(0.94,1)" font-size="17.6" text-anchor="middle">12</text>
<line x1="606.31" y1="631.3" x2="606.31" y2="634.5" stroke="#151515" stroke-width="1.5" stroke-linecap="butt"/>
<line x1="624.88" y1="631.3" x2="624.88" y2="637.7" stroke="#151515" stroke-width="1.5" stroke-linecap="butt"/>
<text id="tc_b14" transform="translate(624.88,653.7) scale(0.94,1)" font-size="17.6" text-anchor="middle">14</text>
<line x1="643.45" y1="631.3" x2="643.45" y2="634.5" stroke="#151515" stroke-width="1.5" stroke-linecap="butt"/>
<line x1="662.02" y1="631.3" x2="662.02" y2="637.7" stroke="#151515" stroke-width="1.5" stroke-linecap="butt"/>
<text id="tc_b16" transform="translate(662.02,653.7) scale(0.94,1)" font-size="17.6" text-anchor="middle">16</text>
<line x1="680.59" y1="631.3" x2="680.59" y2="634.5" stroke="#151515" stroke-width="1.5" stroke-linecap="butt"/>
<line x1="699.16" y1="631.3" x2="699.16" y2="637.7" stroke="#151515" stroke-width="1.5" stroke-linecap="butt"/>
<text id="tc_b18" transform="translate(699.16,653.7) scale(0.94,1)" font-size="17.6" text-anchor="middle">18</text>
<line x1="717.73" y1="631.3" x2="717.73" y2="634.5" stroke="#151515" stroke-width="1.5" stroke-linecap="butt"/>
<line x1="736.3" y1="631.3" x2="736.3" y2="637.7" stroke="#151515" stroke-width="1.5" stroke-linecap="butt"/>
<text id="tc_b20" transform="translate(736.3,653.7) scale(0.94,1)" font-size="17.6" text-anchor="middle">20</text>
<polyline points="383.47,413.2 402.04,420.2 420.61,425.7" fill="none" stroke="#000000" stroke-width="1.6"/>
<circle cx="383.47" cy="413.2" r="4.6" fill="#000000"/>
<circle cx="402.04" cy="420.2" r="4.6" fill="#000000"/>
<circle cx="420.61" cy="425.7" r="4.6" fill="#000000"/>
<polyline points="439.18,439.6 457.75,445.7 476.32,447 494.89,444.9" fill="none" stroke="#ff0000" stroke-width="1.6"/>
<circle cx="439.18" cy="439.6" r="4.6" fill="#ff0000"/>
<circle cx="457.75" cy="445.7" r="4.6" fill="#ff0000"/>
<circle cx="476.32" cy="447" r="4.6" fill="#ff0000"/>
<circle cx="494.89" cy="444.9" r="4.6" fill="#ff0000"/>
<polyline points="513.46,462.3 532.03,467.9 550.6,473.2 569.17,474.8" fill="none" stroke="#0000ff" stroke-width="1.6"/>
<circle cx="513.46" cy="462.3" r="4.6" fill="#0000ff"/>
<circle cx="532.03" cy="467.9" r="4.6" fill="#0000ff"/>
<circle cx="550.6" cy="473.2" r="4.6" fill="#0000ff"/>
<circle cx="569.17" cy="474.8" r="4.6" fill="#0000ff"/>
<polyline points="587.74,490.8 606.31,494.9 624.88,495.7 643.45,494.3" fill="none" stroke="#008080" stroke-width="1.6"/>
<circle cx="587.74" cy="490.8" r="4.6" fill="#008080"/>
<circle cx="606.31" cy="494.9" r="4.6" fill="#008080"/>
<circle cx="624.88" cy="495.7" r="4.6" fill="#008080"/>
<circle cx="643.45" cy="494.3" r="4.6" fill="#008080"/>
<polyline points="662.02,497.6 680.59,500.9 699.16,500.9 717.73,501.7" fill="none" stroke="#ff00ff" stroke-width="1.6"/>
<circle cx="662.02" cy="497.6" r="4.6" fill="#ff00ff"/>
<circle cx="680.59" cy="500.9" r="4.6" fill="#ff00ff"/>
<circle cx="699.16" cy="500.9" r="4.6" fill="#ff00ff"/>
<circle cx="717.73" cy="501.7" r="4.6" fill="#ff00ff"/>
<text id="lab100" transform="translate(370.9,441.9) scale(0.94,1)" font-size="14.8">100 mA g<tspan dy="-7.5" font-size="9.5">-1</tspan></text>
<text id="lab200" transform="translate(431.4,468.4) scale(0.94,1)" font-size="14.8">200 mA g<tspan dy="-7.5" font-size="9.5">-1</tspan></text>
<text id="lab400" transform="translate(497.9,495.1) scale(0.94,1)" font-size="14.8">400 mA g<tspan dy="-7.5" font-size="9.5">-1</tspan></text>
<text id="lab800" transform="translate(574.5,517.8) scale(0.94,1)" font-size="14.8">800 mA g<tspan dy="-7.5" font-size="9.5">-1</tspan></text>
<text id="lab1000" transform="translate(653.8,527.8) scale(0.94,1)" font-size="14.8">1000 mA g<tspan dy="-7.5" font-size="9.5">-1</tspan></text>
<text x="382.6" y="384.3" font-size="29" text-anchor="start" font-weight="bold">(c)</text>
<text id="tDisC" transform="translate(294.7,650.4) rotate(-90) scale(0.9439,1)" font-size="23.6" letter-spacing="0.000">Discharge capacity (mAh g<tspan dy="-11" font-size="14">-1</tspan><tspan dy="11">)</tspan></text>
<text id="tCycC" transform="translate(464,684) scale(1.0001,1)" font-size="21.2" letter-spacing="0.000">Cycle number (n)</text>
</g>
</svg>
</body></html>
